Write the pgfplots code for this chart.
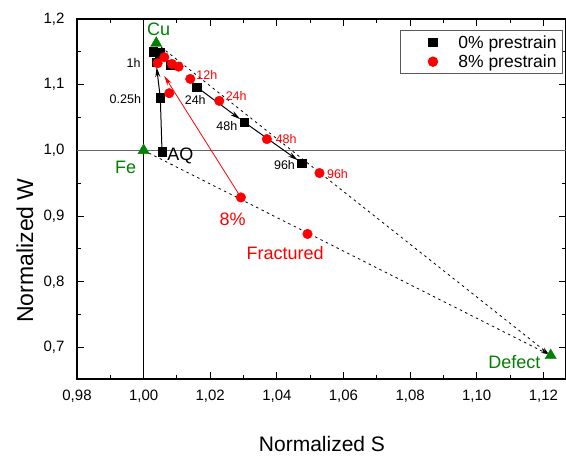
\documentclass[border=0pt]{standalone}
\usepackage{fontspec}
\setmainfont{Liberation Sans}
\usepackage{pgfplots}
\pgfplotsset{compat=1.18}
\usetikzlibrary{arrows.meta}
\definecolor{dgreen}{RGB}{0,128,0}
\newcommand{\fs}[1]{\fontsize{#1bp}{#1bp}\selectfont}
\begin{document}
\begin{tikzpicture}
\begin{axis}[name=ax, scale only axis, width=489bp, height=360bp,
  xmin=0.98, xmax=1.1268, ymin=0.652, ymax=1.2,
  axis line style={line width=1.2bp},
  xtick={0.98,1,1.02,1.04,1.06,1.08,1.1,1.12}, minor x tick num=1,
  ytick={0.7,0.8,0.9,1.0,1.1,1.2}, minor y tick num=1,
  tick align=inside, major tick length=7bp, minor tick length=4bp,
  tick style={line width=1bp, black},
  /pgf/number format/assume math mode=true,
  x tick label style={font=\fs{15}, yshift=-8bp, /pgf/number format/.cd, fixed, fixed zerofill, precision=2, use comma, /tikz/.cd},
  y tick label style={font=\fs{15}, xshift=-9bp, /pgf/number format/.cd, fixed, fixed zerofill, precision=1, use comma, /tikz/.cd},
  xlabel={Normalized S}, ylabel={Normalized W},
  xlabel style={font=\fs{21}, at={(axis description cs:0.501,-0.18)}, anchor=center, inner sep=0pt},
  ylabel style={font=\fs{23}, at={(axis description cs:-0.1063,0.357)}, anchor=center, inner sep=0pt},
  legend style={at={(0.9939,0.9694)}, anchor=north east, draw=black!65, line width=0.8bp,
    font=\fs{17.5}, inner xsep=1bp, inner ysep=3bp, row sep=1bp,
    nodes={inner ysep=2bp, inner xsep=5bp}},
  legend cell align=left,
  legend image code/.code={\path (0bp,0bp) (51bp,0bp); \draw[#1] plot coordinates {(31bp,0bp)};},
  clip=false,
]
% reference lines
\draw[black!60, line width=1.5bp] (axis cs:0.98,1) -- (axis cs:1.1268,1);
\draw[black, line width=1bp] (axis cs:1,0.652) -- (axis cs:1,1.2);
% dashed construction lines
\addplot[forget plot, black, line width=0.8bp, dash pattern=on 2.5bp off 3.5bp, shorten >=3bp, -{Stealth[length=7bp,width=4bp]}] coordinates {(1.0038,1.1631) (1.1222,0.6878)};
\addplot[forget plot, black, line width=0.8bp, dash pattern=on 2.5bp off 3.5bp, shorten >=3bp, -{Stealth[length=7bp,width=4bp]}] coordinates {(1.0,1.0) (1.1222,0.6878)};
% black arrows
\addplot[forget plot, black, line width=1bp] coordinates {(1.00552,0.9983) (1.00501,1.0804)};
\addplot[forget plot, black, line width=1bp, shorten >=5bp, -{Stealth[length=10bp,width=5bp]}] coordinates {(1.00501,1.0804) (1.00372,1.1342)};
\addplot[forget plot, black, line width=1bp, shorten >=5bp, -{Stealth[length=10bp,width=5bp]}] coordinates {(1.0160,1.0962) (1.0302,1.0430)};
\addplot[forget plot, black, line width=1bp, shorten >=5bp, -{Stealth[length=10bp,width=5bp]}] coordinates {(1.0302,1.0430) (1.0475,0.9807)};
% red arrow
\addplot[forget plot, red, line width=0.8bp, -{Stealth[length=10bp,width=5bp]}] coordinates {(1.0292,0.9284) (1.0062,1.1134)};
% green reference points
\addplot[forget plot, only marks, mark=triangle*, mark size=6.5bp, dgreen] coordinates {
(1.0038,1.1631) (1.0,1.0) (1.1222,0.6878)};
% 0% prestrain
\addplot[only marks, mark=square*, mark size=4.3bp, black] coordinates {
(1.00552,0.9983) (1.00501,1.0804) (1.00372,1.1342) (1.00282,1.1503) (1.0048,1.1488)
(1.0080,1.1301) (1.0160,1.0962) (1.0302,1.0430) (1.0475,0.9807)};
\addlegendentry{0\% prestrain}
% 8% prestrain
\addplot[only marks, mark=*, mark size=4.8bp, red] coordinates {
(1.0042,1.1327) (1.0062,1.1418) (1.0085,1.1316) (1.0105,1.1275) (1.0140,1.1088)
(1.0227,1.0754) (1.0370,1.0172) (1.0528,0.9655) (1.0077,1.0871) (1.0292,0.9284) (1.0492,0.8728)};
\addlegendentry{8\% prestrain}
% labels
\node[dgreen, font=\fs{18}, inner sep=0pt] at (axis cs:1.0045,1.1845) {Cu};
\node[dgreen, font=\fs{18}, inner sep=0pt] at (axis cs:0.9946,0.9746) {Fe};
\node[dgreen, font=\fs{18}, inner sep=0pt] at (axis cs:1.1113,0.6777) {Defect};
\node[black, font=\fs{18}, inner sep=0pt] at (axis cs:1.0110,0.9918) {AQ};
\node[black, font=\fs{12.5}, inner sep=0pt] at (axis cs:0.9970,1.1327) {1h};
\node[black, font=\fs{12.5}, inner sep=0pt] at (axis cs:0.99451,1.078) {0.25h};
\node[black, font=\fs{12.5}, inner sep=0pt] at (axis cs:1.0155,1.0769) {24h};
\node[black, font=\fs{12.5}, inner sep=0pt] at (axis cs:1.0250,1.0378) {48h};
\node[black, font=\fs{12.5}, inner sep=0pt] at (axis cs:1.0423,0.9771) {96h};
\node[red, font=\fs{12.5}, inner sep=0pt] at (axis cs:1.0190,1.1149) {12h};
\node[red, font=\fs{12.5}, inner sep=0pt] at (axis cs:1.0278,1.0834) {24h};
\node[red, font=\fs{12.5}, inner sep=0pt] at (axis cs:1.0428,1.0176) {48h};
\node[red, font=\fs{12.5}, inner sep=0pt] at (axis cs:1.0582,0.9644) {96h};
\node[red, font=\fs{18}, inner sep=0pt] at (axis cs:1.0267,0.8945) {8\%};
\node[red, font=\fs{18}, inner sep=0pt] at (axis cs:1.0425,0.8439) {Fractured};
\end{axis}
\pgfresetboundingbox
\path[use as bounding box] ([shift={(-77bp,-77bp)}]ax.south west) rectangle ([shift={(489bp,379bp)}]ax.south west);
\end{tikzpicture}
\end{document}
